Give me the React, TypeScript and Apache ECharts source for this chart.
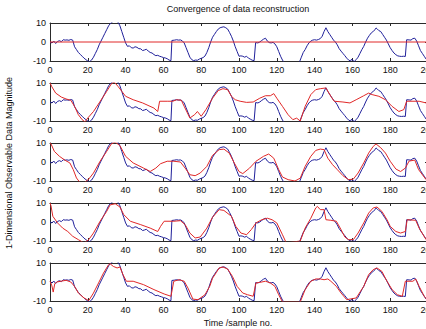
import React, { useEffect, useRef } from "react";
import * as echarts from "echarts";

const xTicks = [0, 20, 40, 60, 80, 100, 120, 140, 160, 180, 200];
const yTicks = [-10, 0, 10];
const titleText = "Convergence of data reconstruction";
const xLabel = "Time /sample no.";
const yLabel = "1-Dimensional Observable Data Magnitude";

const blueSignal: number[][] = [
  [0,0],[1,-0.5],[2,0.5],[3,-0.8],[4,0.3],[5,0.7],[6,0.2],[7,1.2],[8,1],[9,1.1],[10,0.9],[11,1.3],[12,1],
  [13,-2.5],[14,-4],[15,-5.5],[16,-6.5],[17,-7.5],[18,-8.5],[19,-9.3],[20,-10],[21,-10.3],[22,-9.5],[23,-8],
  [24,-6],[25,-4],[26,-1.5],[27,0.5],[28,2.5],[29,4.5],[30,6.5],[31,8.5],[32,9.8],[33,10.5],[34,11],[35,11],
  [36,10.5],[37,8.5],[38,5.5],[39,2.5],[40,-0.5],[41,-2.3],[42,-2],[43,-3],[44,-3.2],[45,-2.5],[46,-2.8],
  [47,-3.5],[48,-3.6],[49,-4.5],[50,-4.2],[51,-3.8],[52,-4.8],[53,-5.5],[54,-5.8],[55,-6.6],[56,-7.2],[57,-7],
  [58,-7.5],[59,-7.8],[60,-8.2],[61,-8.4],[62,-8.8],[63,-9.5],[64,-9.8],[64.5,0.8],[66,1],[67,1.2],[68,1],
  [69,1.1],[70,0.6],[71,-0.5],[72,-3],[73,-5.5],[74,-8],[75,-9.3],[76,-9.8],[77,-9.5],[78,-9.6],[79,-9],
  [80,-8.6],[81,-8.2],[82,-7.4],[83,-5.5],[84,-3],[85,0],[86,2.5],[87,4],[88,5.5],[89,6.8],[90,7.5],[91,7.8],
  [92,8],[93,7.5],[94,6.8],[95,5],[96,3],[97,0.5],[98,-2.5],[99,-5],[100,-7.5],[101,-7.3],[102,-7.5],[103,-8],
  [104,-7.5],[105,-8.5],[106,-9],[107,-9.6],[108,-9.8],[108.8,-0.3],[110,-0.5],[111,0],[112,0.8],[113,1.5],
  [114,2],[115,0.5],[116,-0.3],[117,-0.5],[118,-0.2],[119,-1],[120,-2.5],[121,-5],[122,-7.5],[123,-9.5],
  [124,-11],[125,-12],[131,-12],[132,-10.5],[133,-8],[134,-5.5],[135,-4],[136,-2],[137,-0.5],[138,0.5],
  [139,1],[140,1.2],[141,1],[142,1.3],[143,1.8],[144,3],[145,5.5],[146,7.5],[147,5.5],[148,4],[149,2.5],
  [150,1],[151,0],[152,-1.5],[153,-3.5],[154,-4.8],[155,-6],[156,-7.2],[157,-8.5],[158,-9.5],[159,-10],
  [159.6,-9],[160,-9.6],[161,-10.2],[162,-9.3],[163,-8],[164,-6],[165,-4],[166,-2.3],[167,0],[168,2],
  [169,3.5],[170,4.8],[171,5.6],[172,6.5],[172.5,7.4],[173,7],[174,6],[175,5.5],[176,4],[177,2.5],[178,1],
  [179,-1],[180,-3],[181,-4.5],[182,-5.8],[183,-6.7],[184,-7.3],[185,-7.5],[186,-7.6],[187,-7.5],[188,-7.6],
  [188.7,1.2],[190,1.1],[191,1],[192,1.8],[193,2],[194,0.5],[195,-2],[196,-4.5],[197,-6],[198,-7.5],
  [199,-9],[200,-10]
];

const red1: number[][] = [[0,0],[200,0]];

const red2: number[][] = [
  [0,10],[1,8],[3,4.7],[6,2.6],[8.5,1.6],[11,0.9],[13,-2.3],[15,-6.7],[17,-9.3],[18.5,-10.5],[20,-8.4],
  [23,-5],[26,-0.5],[30,5.6],[32.5,9.6],[34,10.5],[36,8.2],[38,5.6],[40,3],[44,1.2],[49,-0.5],[55,-3.2],
  [57,-5],[58,0.4],[62,0.4],[65,0.4],[67,1.2],[69.5,0.9],[71,-2.3],[74,-8.4],[76.5,-6.7],[78,-5],[80,-7.5],
  [82.5,-4],[86,2],[89,6],[91.5,7],[94,6.5],[96,3],[98,1.2],[100.6,0.4],[104,-0.2],[107.5,0],[111,2],
  [114,3.3],[116.6,3.3],[118.4,4.4],[120,2],[123,-2.3],[126,-6.7],[128.5,-9.3],[130.5,-8.5],[132.4,-10],
  [135,-2.3],[138,3.9],[140.6,6.5],[143,7],[146,7.4],[148.6,3],[150.4,0.4],[155,0],[158.7,-0.5],[162,1.2],
  [166,3.3],[168.6,4.7],[170.4,3.9],[174,3],[177.5,1.2],[181,-2.3],[184.6,-5],[187.2,-4],[188.7,0.4],
  [192.6,0.4],[195.3,0.4],[199,-0.5],[200,-0.6]
];

const red3: number[][] = [
  [0,10],[0.5,9.6],[2.3,5.6],[5,3],[8,0.9],[10.5,-0.5],[12.3,-4],[14,-8.4],[16,-11],[18,-11],[20.5,-9],
  [23,-5.8],[26.5,0.4],[30,5.6],[32.5,9.6],[34.5,10.5],[37,8.6],[40,3],[44,-0.5],[49.5,-3.2],[53,-5],
  [56,-3.2],[58.5,-0.9],[62,0.4],[65.5,0.4],[69,0],[71.5,-3.2],[74,-6.7],[76.8,-7.2],[79.5,-5.8],[83,-2.3],
  [86,3.5],[89.5,6.5],[92,6.8],[94.8,4.7],[97.5,-0.5],[100,-5],[102,-6.1],[105.6,-3.2],[109,0.4],[113,3],
  [115.7,4.2],[118.4,2],[121,-4],[123,-7.9],[126,-9.3],[129.6,-10],[132.4,-8.5],[135,-2.3],[138,3],
  [140.6,6.1],[143,6.8],[145,6.5],[147,2],[149.5,-1.4],[152,-4],[155,-7.2],[158,-9.3],[160.5,-9],[163,-5.8],
  [166,-0.5],[168.6,4.7],[171,8.2],[172.5,9.5],[175,7.5],[177.5,4.7],[180,0.4],[183,-3.7],[185.5,-5],
  [188,-3.2],[190,0.5],[193,1],[195,-4],[199,-9.3],[200,-10]
];

const red4: number[][] = [
  [0,10],[0.5,8.6],[1.5,3],[4,-0.5],[6.7,-3.2],[9.4,-5],[12,-7.5],[15,-9.3],[18,-11],[20.5,-9.3],[23,-5.8],
  [26.5,0.4],[30,5.6],[31.8,9],[34.5,9.6],[37,7.9],[39,3.9],[42.5,0.4],[48,-1.4],[53,-3.2],[57,-5],
  [58.5,-2.3],[60.4,0.4],[65.5,0.4],[69,0.7],[71.5,-1.4],[74,-5.8],[76.8,-8.4],[79.5,-7.9],[83,-3.2],
  [86,2.5],[89.5,6.5],[92,6.1],[96,3],[98.3,-2.3],[101,-5.8],[104,-6.7],[106.5,-4],[109,-0.5],[112,1.2],
  [115,2],[117.5,1.2],[120,-0.5],[123,-6.7],[125,-11],[132.4,-10],[135,-3.2],[138,2],[140.6,7.4],
  [141.5,8.2],[143,6.5],[145,6.5],[146,1.2],[148.6,0.9],[151.5,0.4],[154,-4],[156,-7.9],[158,-9.3],
  [160.5,-9.3],[163,-5.8],[166,-0.5],[168.6,4.7],[171,7.4],[173,7.9],[175.6,5.6],[178.3,1.2],[180,-2.3],
  [183,-5],[185.5,-5.8],[188,-5],[189,1.2],[193.5,0.9],[195.3,-3.2],[199,-9.3],[200,-10]
];

const red5: number[][] = [
  [0,0.4],[1,-2],[1.7,-5.3],[2.5,-1],[3.5,0],[5.8,0.4],[8.5,0.9],[11,0],[13,-2.3],[15,-5.8],[18,-8.4],
  [20.5,-9.8],[23,-5.8],[25.7,-0.5],[28.3,4.7],[31,9.1],[31.8,9.6],[33.5,8.2],[35.5,7.4],[37,7.9],
  [38.6,3.9],[40.4,0.4],[44,0.4],[49.5,-1.4],[55,-4],[60.4,-6.3],[64,-7.5],[65.5,0.4],[68.3,1.2],[71,0.4],
  [73,-3.2],[75.6,-9],[78.3,-9.3],[82,-6.7],[84.5,-2.3],[86,2],[88,5],[89.5,7.4],[91.5,7.9],[94,6.8],
  [96.5,3],[99,-2.3],[102,-5.8],[104.5,-6.7],[107.5,-7.5],[109,-0.5],[111,-0.2],[114,0.4],[116.6,-0.5],
  [119,-2.3],[121,-6.7],[123,-10.5],[132.4,-10.5],[135,-4],[138,0.4],[140.6,1.6],[143,1.6],[145,1.2],
  [147,1.6],[148.6,0.4],[151.5,-2.3],[154,-5.8],[157,-9.3],[162,-8.4],[166,-2.3],[168.6,3.9],[171,6.5],
  [173,7.4],[175.6,5.6],[178.3,0.4],[181,-4],[183.8,-6.7],[186.4,-7.5],[188,0.4],[192,0.4],[193.5,1.6],
  [195.3,-2.3],[198,-7.5],[200,-10]
];

const reconstructions = [red1, red2, red3, red4, red5];

const FONT = "Liberation Sans, Arial, Helvetica, sans-serif";
const BLUE = "#20209a";
const RED = "#e02828";
const AXIS = "#2a2a2a";

export default function App() {
  const ref = useRef<HTMLDivElement>(null);
  useEffect(() => {
    if (!ref.current) return;
    const chart = echarts.init(ref.current, null, { renderer: "svg" });
    const grids: any[] = [];
    const xAxes: any[] = [];
    const yAxes: any[] = [];
    const series: any[] = [];
    const tops = [23, 83, 143, 203, 263];
    tops.forEach((top, i) => {
      grids.push({ left: 50, right: -2, top, height: 38, containLabel: false, outerBoundsMode: "none" });
      const xBase = {
        type: "value", gridIndex: i, min: xTicks[0], max: xTicks[xTicks.length - 1], interval: 20,
        axisLine: { show: true, onZero: false, lineStyle: { color: AXIS, width: 1 } },
        axisTick: { show: true, inside: true, length: 3, lineStyle: { color: AXIS } },
        splitLine: { show: false },
      };
      xAxes.push({ ...xBase, position: "bottom",
        axisLabel: { show: true, fontSize: 9, color: "#111", margin: 4, fontFamily: FONT, showMaxLabel: true, showMinLabel: true } });
      xAxes.push({ ...xBase, position: "top", axisLabel: { show: false } });
      const yBase = {
        type: "value", gridIndex: i, min: yTicks[0], max: yTicks[yTicks.length - 1], interval: 10,
        axisLine: { show: true, onZero: false, lineStyle: { color: AXIS, width: 1 } },
        axisTick: { show: true, inside: true, length: 3, lineStyle: { color: AXIS } },
        splitLine: { show: false },
      };
      yAxes.push({ ...yBase, position: "left",
        axisLabel: { show: true, fontSize: 9, color: "#111", margin: 4, fontFamily: FONT } });
      yAxes.push({ ...yBase, position: "right", axisLabel: { show: false } });
      series.push({
        type: "line", xAxisIndex: 2 * i, yAxisIndex: 2 * i, data: blueSignal, showSymbol: false,
        symbol: "none", lineStyle: { color: BLUE, width: 1 }, clip: true, silent: true,
      });
      series.push({
        type: "line", xAxisIndex: 2 * i, yAxisIndex: 2 * i, data: reconstructions[i], showSymbol: false,
        symbol: "none", lineStyle: { color: RED, width: 1 }, clip: true, silent: true,
      });
    });
    chart.setOption({
      animation: false,
      backgroundColor: "#ffffff",
      grid: grids,
      xAxis: xAxes,
      yAxis: yAxes,
      series,
      graphic: [
        { type: "text", x: 238, y: 9, style: { text: titleText, fontSize: 9, fontFamily: FONT, fill: "#111", textAlign: "center", textVerticalAlign: "middle" } },
        { type: "text", x: 238, y: 323, style: { text: xLabel, fontSize: 9, fontFamily: FONT, fill: "#111", textAlign: "center", textVerticalAlign: "middle" } },
        { type: "text", x: 9, y: 163, rotation: Math.PI / 2, style: { text: yLabel, fontSize: 9, fontFamily: FONT, fill: "#111", textAlign: "center", textVerticalAlign: "middle" } },
      ],
    });
    return () => chart.dispose();
  }, []);
  return <div ref={ref} style={{ position: "fixed", left: 0, top: 0, width: 426, height: 329, background: "#fff" }} />;
}
